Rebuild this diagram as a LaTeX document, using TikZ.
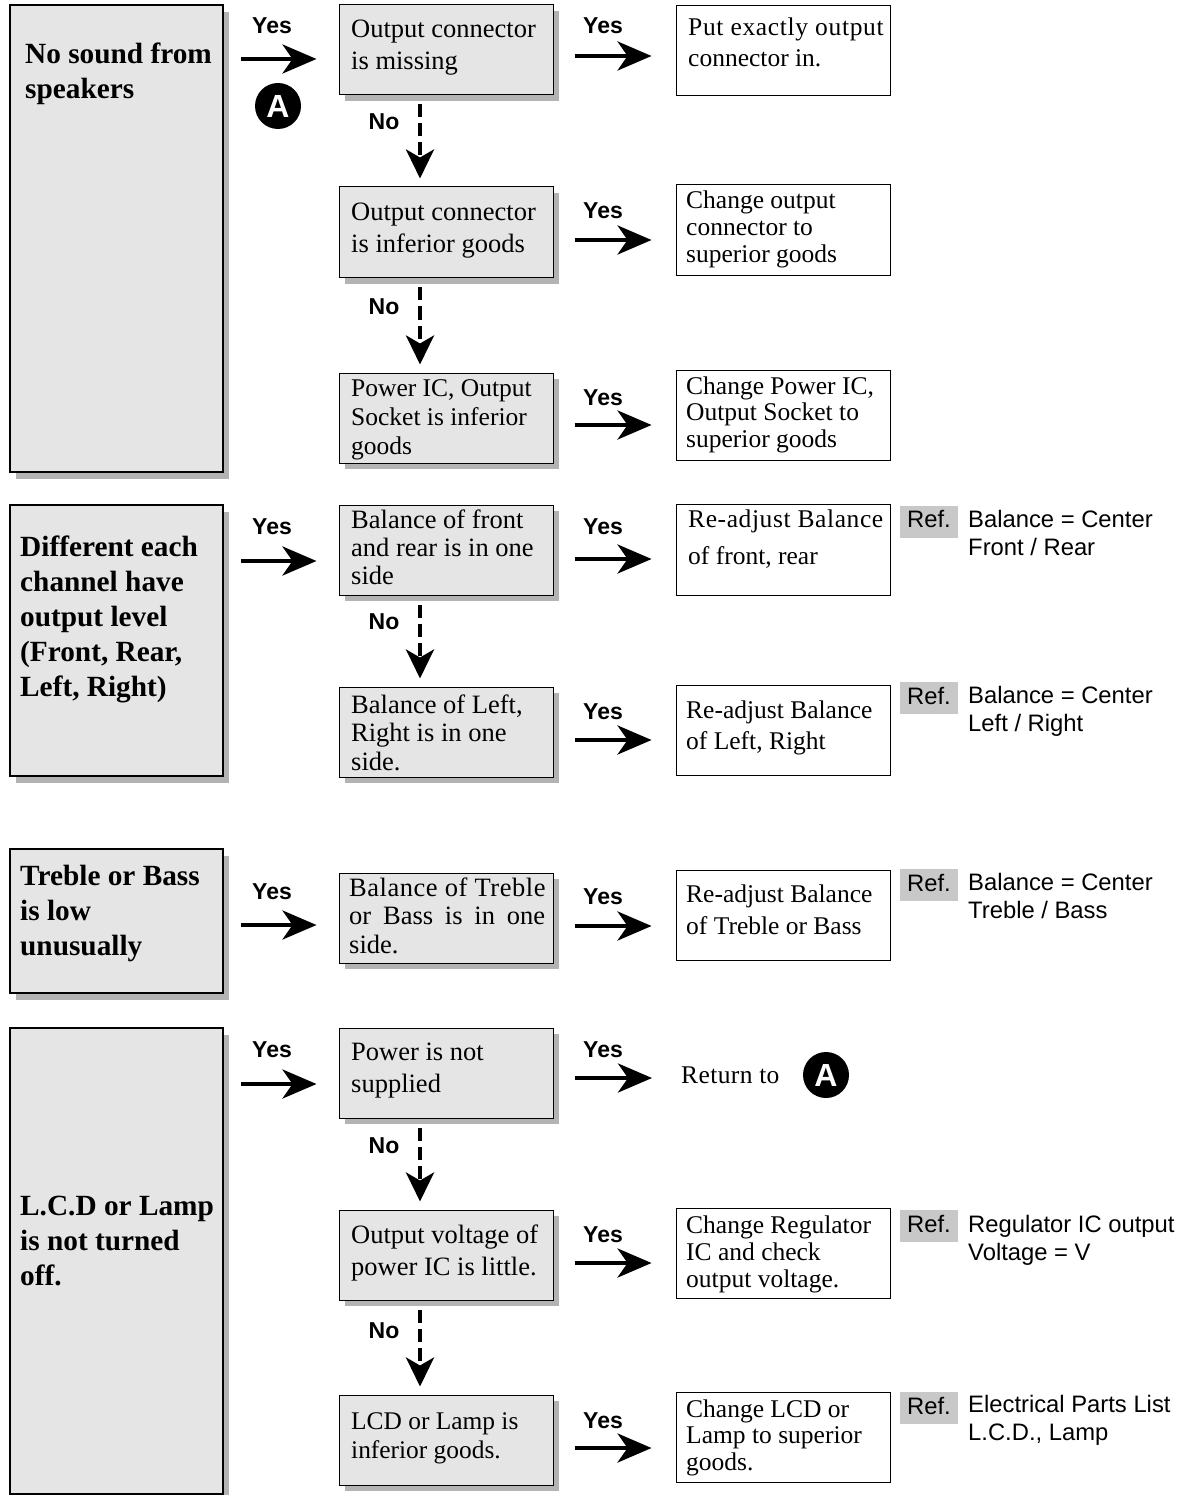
\documentclass[tikz,border=0pt]{standalone}
\usepackage{fontspec}
\setmainfont{Liberation Serif}
\newfontfamily\arialf{Liberation Sans}
\usetikzlibrary{arrows.meta,calc,fit,shadows}
\definecolor{boxgray}{HTML}{E5E5E5}
\definecolor{shadegray}{HTML}{B3B3B3}
\definecolor{refgray}{HTML}{C8C8C8}
\tikzset{
  x=1pt,y=-1pt,
  bigbox/.style={draw=black,line width=2.4pt,fill=boxgray,inner sep=0pt,
    drop shadow={shadow xshift=6pt,shadow yshift=-7pt,fill=shadegray,opacity=1}},
  askbox/.style={draw=black,line width=1pt,fill=boxgray,inner sep=0pt,
    drop shadow={shadow xshift=6pt,shadow yshift=-6pt,fill=shadegray,opacity=1}},
  fixbox/.style={draw=black,line width=0.9pt,fill=white,inner sep=0pt},
  reftag/.style={fill=refgray,inner sep=0pt},
  leftlabel/.style={anchor=north west,inner sep=0pt,align=left},
  yesline/.style={line width=4.2pt,-{Stealth[length=34pt,width=29pt,inset=10pt]}},
  noline/.style={line width=4pt,dash pattern=on 13pt off 6pt,-{Stealth[length=29pt,width=28pt,inset=8pt]}},
  bullet/.style={circle,fill=black,text=white,inner sep=0pt,minimum size=46pt,font=\arialf\bfseries\fontsize{32}{32}\selectfont},
  yestext/.style={anchor=base,inner sep=0pt,font=\arialf\bfseries\fontsize{23}{23}\selectfont},
}
% name, x1,y1,x2,y2, style
\newcommand{\bx}[6]{\node[#6,fit={(#2,#3)(#4,#5)}] (#1) {};}
% name, x, first baseline, size, leading, text
\newcommand{\tb}[6]{\node[leftlabel,font=\fontsize{#4}{#5}\selectfont] (#1) at (#2,#3-32) {\rule{0pt}{32pt}#6};}
\newcommand{\tbb}[5]{\node[leftlabel,font=\bfseries\fontsize{29.3}{35}\selectfont] (#1) at (#2,#3-32) {\rule{0pt}{32pt}#4};}
\newcommand{\ar}[5]{\node[leftlabel,font=\arialf\fontsize{23.8}{28}\selectfont] (#1) at (#2,#3-32) {\rule{0pt}{32pt}#4};}
\newcommand{\wide}[2]{\makebox[#1pt][s]{#2}}
\newcommand{\spaced}[2]{{\addfontfeature{LetterSpace=#1}#2}}
% from, to, y, gap start, gap end
\newcommand{\yesarr}[5]{\draw[yesline] ($(#1.east |- 0,#3)+(#4,0)$) -- ($(#2.west |- 0,#3)+(-#5,0)$);}
\newcommand{\noarr}[2]{\draw[noline] ($(#1.south)+(-26,9)$) -- ($(#2.north)+(-26,-8)$);}
\newcommand{\yeslab}[3]{\node[yestext] (#1) at (#2,#3) {Yes};}
\newcommand{\nolab}[2]{\node[yestext] (#1) at (384,#2) {No};}
\newcommand{\refmark}[3]{\node[reftag,fit={(900,#2)(958,#3)},label={[font=\arialf\fontsize{23.8}{28}\selectfont,inner sep=0pt,anchor=center,yshift=2.5pt]center:Ref.}] (#1) {};}
\begin{document}
\begin{tikzpicture}
\useasboundingbox (0,0) rectangle (1184,1495);
\clip (0,0) rectangle (1184,1495);
% left boxes
\bx{L1}{10}{5}{223}{472}{bigbox}
\bx{L2}{10}{505}{223}{776}{bigbox}
\bx{L3}{10}{849}{223}{993}{bigbox}
\bx{L4}{10}{1028}{223}{1494}{bigbox}
% question boxes
\bx{A1}{339}{5}{553}{95}{askbox}
\bx{A2}{339}{187}{553}{278}{askbox}
\bx{A3}{339}{373}{553}{463}{askbox}
\bx{B1}{339}{505}{553}{595}{askbox}
\bx{B2}{339}{687}{553}{777}{askbox}
\bx{C1}{339}{873}{553}{963}{askbox}
\bx{D1}{339}{1028}{553}{1118}{askbox}
\bx{D2}{339}{1210}{553}{1300}{askbox}
\bx{D3}{339}{1395}{553}{1485}{askbox}
% result boxes
\bx{R1}{676}{5}{890}{95}{fixbox}
\bx{R2}{676}{184}{890}{275}{fixbox}
\bx{R3}{676}{370}{890}{460}{fixbox}
\bx{R4}{676}{504}{890}{595}{fixbox}
\bx{R5}{676}{685}{890}{775}{fixbox}
\bx{R6}{676}{870}{890}{960}{fixbox}
\bx{R8}{676}{1208}{890}{1298}{fixbox}
\bx{R9}{676}{1392}{890}{1482}{fixbox}
% left titles
\tbb{tL1}{25}{63}{No sound from\\speakers}{}
\tbb{tL2}{20}{556}{Different each\\channel have\\output level\\(Front, Rear,\\Left, Right)}{}
\tbb{tL3}{20}{885}{Treble or Bass\\is low\\unusually}{}
\tbb{tL4}{20}{1215}{L.C.D or Lamp\\is not turned\\off.}{}
% question texts
\tb{tA1}{351}{37}{26.5}{32}{Output connector\\is missing}
\tb{tA2}{351}{220}{26.5}{32}{Output connector\\is inferior goods}
\tb{tA3}{351}{396}{25.5}{29}{Power IC, Output\\Socket is inferior\\goods}
\tb{tB1}{351}{528}{26.5}{28}{Balance of front\\and rear is in one\\side}
\tb{tB2}{351}{713}{26.5}{28.5}{Balance of Left,\\Right is in one\\side.}
\tb{tC1}{349}{896}{26.5}{28.5}{\spaced{2}{Balance of Treble}\\\wide{196}{or Bass is in one}\\side.}
\tb{tD1}{351}{1060}{26.5}{32}{Power is not\\supplied}
\tb{tD2}{351}{1243}{26.5}{32}{Output voltage of\\power IC is little.}
\tb{tD3}{351}{1429}{25.4}{29}{LCD or Lamp is\\inferior goods.}
% result texts
\tb{tR1}{688}{35}{25.5}{31}{\spaced{2.6}{Put exactly output}\\connector in.}
\tb{tR2}{686}{208}{25.5}{27}{Change output\\connector to\\superior goods}
\tb{tR3}{686}{394}{25.5}{26.5}{Change Power IC,\\Output Socket to\\superior goods}
\tb{tR4}{688}{527}{25.5}{37}{\spaced{2.3}{Re-adjust Balance}\\of front, rear}
\tb{tR5}{686}{718}{25.5}{31}{Re-adjust Balance\\of Left, Right}
\tb{tR6}{686}{902}{25.5}{32}{Re-adjust Balance\\of Treble or Bass}
\tb{tR8}{686}{1233}{25.5}{27}{Change Regulator\\IC and check\\output voltage.}
\tb{tR9}{686}{1417}{25.5}{26.5}{Change LCD or\\Lamp to superior\\goods.}
\tb{R7}{681}{1083}{25.5}{27}{\spaced{1.5}{Return to}}
% bullets
\node[bullet] (mA) at (278,106) {A};
\node[bullet] (mB) at (826,1075) {A};
% yes arrows
\yesarr{L1}{A1}{59}{17}{22}
\yesarr{A1}{R1}{56}{21}{24}
\yesarr{A2}{R2}{240}{21}{24}
\yesarr{A3}{R3}{425}{21}{24}
\yesarr{L2}{B1}{561}{17}{22}
\yesarr{B1}{R4}{559}{21}{24}
\yesarr{B2}{R5}{740}{21}{24}
\yesarr{L3}{C1}{925}{17}{22}
\yesarr{C1}{R6}{926}{21}{24}
\yesarr{L4}{D1}{1084}{17}{22}
\yesarr{D1}{R7}{1078}{21}{29}
\yesarr{D2}{R8}{1263}{21}{24}
\yesarr{D3}{R9}{1448}{21}{24}
% no arrows
\noarr{A1}{A2}
\noarr{A2}{A3}
\noarr{B1}{B2}
\noarr{D1}{D2}
\noarr{D2}{D3}
% labels
\yeslab{y1}{272}{34}\yeslab{y2}{603}{34}\yeslab{y3}{603}{219}\yeslab{y4}{603}{405}
\yeslab{y5}{272}{534}\yeslab{y6}{603}{534}\yeslab{y7}{603}{719}
\yeslab{y8}{272}{899}\yeslab{y9}{603}{904}
\yeslab{y10}{272}{1057}\yeslab{y11}{603}{1057}\yeslab{y12}{603}{1242}\yeslab{y13}{603}{1428}
\nolab{n1}{130}\nolab{n2}{315}\nolab{n3}{629}\nolab{n4}{1153}\nolab{n5}{1338}
% references
\refmark{f1}{506}{538}\refmark{f2}{682}{714}\refmark{f3}{869}{901}\refmark{f4}{1210}{1242}\refmark{f5}{1392}{1424}
\ar{g1}{968}{527}{Balance = Center\\Front / Rear}{}
\ar{g2}{968}{703}{Balance = Center\\Left / Right}{}
\ar{g3}{968}{890}{Balance = Center\\Treble / Bass}{}
\ar{g4}{968}{1232}{Regulator IC output\\Voltage = V}{}
\ar{g5}{968}{1412}{Electrical Parts List\\L.C.D., Lamp}{}
\end{tikzpicture}
\end{document}
